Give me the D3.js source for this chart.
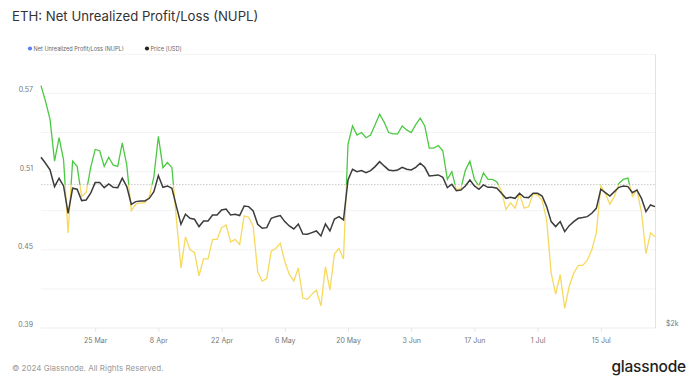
<!DOCTYPE html>
<html>
<head>
<meta charset="utf-8">
<script src="https://cdn.jsdelivr.net/npm/d3@7"></script>
<style>
  body { margin: 0; background: #fff; }
  svg { font-family: Inter, "Noto Sans", sans-serif; }
</style>
</head>
<body>
<svg id="chart" width="700" height="390"></svg>
<script>
// daily series, first point 13 Mar 2024
const startDate = "2024-03-13";

const nupl = [
  0.576, 0.564, 0.550, 0.518, 0.536, 0.519, 0.463, 0.518, 0.514, 0.491,
  0.494, 0.513, 0.527, 0.526, 0.514, 0.521, 0.515, 0.514, 0.532, 0.515,
  0.480, 0.485, 0.486, 0.486, 0.491, 0.506, 0.537, 0.513, 0.517, 0.513,
  0.473, 0.436, 0.460, 0.450, 0.448, 0.430, 0.443, 0.443, 0.458, 0.458,
  0.467, 0.469, 0.456, 0.458, 0.454, 0.476, 0.475, 0.468, 0.433, 0.426,
  0.428, 0.449, 0.451, 0.455, 0.441, 0.431, 0.426, 0.436, 0.413, 0.412,
  0.416, 0.419, 0.407, 0.437, 0.419, 0.447, 0.451, 0.443, 0.531, 0.545,
  0.538, 0.540, 0.536, 0.538, 0.546, 0.554, 0.548, 0.540, 0.539, 0.539,
  0.545, 0.542, 0.540, 0.546, 0.551, 0.545, 0.528, 0.528, 0.530, 0.526,
  0.504, 0.510, 0.496, 0.497, 0.511, 0.518, 0.504, 0.499, 0.509, 0.504,
  0.504, 0.502, 0.495, 0.481, 0.486, 0.482, 0.493, 0.482, 0.483, 0.493,
  0.492, 0.488, 0.473, 0.432, 0.416, 0.431, 0.405, 0.422, 0.432, 0.438,
  0.438, 0.442, 0.450, 0.463, 0.499, 0.493, 0.485, 0.491, 0.501, 0.504,
  0.505, 0.491, 0.496, 0.479, 0.447, 0.463, 0.460
];

const price = [
  4000, 3901, 3794, 3538, 3664, 3548, 3164, 3514, 3499, 3337,
  3346, 3441, 3598, 3598, 3523, 3578, 3528, 3523, 3664, 3538,
  3286, 3323, 3332, 3332, 3369, 3465, 3705, 3528, 3548, 3514,
  3254, 3022, 3151, 3099, 3086, 2993, 3064, 3064, 3142, 3142,
  3209, 3222, 3142, 3151, 3134, 3263, 3254, 3196, 3022, 2972,
  2980, 3099, 3120, 3134, 3056, 3001, 2964, 3026, 2902, 2898,
  2919, 2939, 2878, 3026, 2939, 3090, 3120, 3077, 3638, 3804,
  3767, 3783, 3752, 3783, 3847, 3928, 3858, 3794, 3783, 3794,
  3836, 3804, 3794, 3836, 3901, 3836, 3700, 3705, 3715, 3679,
  3523, 3573, 3479, 3489, 3548, 3638, 3548, 3499, 3563, 3528,
  3528, 3514, 3441, 3369, 3384, 3369, 3441, 3384, 3379, 3441,
  3441, 3402, 3254, 3056, 2993, 3056, 2931, 3005, 3056, 3099,
  3108, 3120, 3164, 3231, 3499, 3450, 3402, 3465, 3528, 3548,
  3538, 3450, 3489, 3369, 3187, 3277, 3254
];

const xTicks = ["2024-03-25", "2024-04-08", "2024-04-22", "2024-05-06", "2024-05-20",
                "2024-06-03", "2024-06-17", "2024-07-01", "2024-07-15"];
const yLabels = [0.39, 0.45, 0.51, 0.57];
const yGrid = [0.39, 0.42, 0.45, 0.48, 0.51, 0.54, 0.57, 0.60];
const priceTicks = [2000];
const threshold = 0.5;

const svg = d3.select("#chart");
const plotLeft = 41, plotRight = 655, plotTop = 54.3, plotBottom = 328;

const parse = d3.utcParse("%Y-%m-%d");
const t0 = parse(startDate);
const data = nupl.map((v, i) => ({ date: d3.utcDay.offset(t0, i), nupl: v, price: price[i] }));

const x = d3.scaleUtc()
  .domain([t0, data[data.length - 1].date])
  .range([plotLeft, plotRight]);
const y = d3.scaleLinear().domain([0.39, 0.60]).range([plotBottom, plotTop]);
const yPrice = d3.scaleLog().domain([1958, 6155]).range([plotBottom, plotTop]);

// title
svg.append("text")
  .attr("x", 12).attr("y", 21)
  .attr("font-size", 13.2).attr("fill", "#333")
  .text("ETH: Net Unrealized Profit/Loss (NUPL)");

// legend
const legend = [
  { label: "Net Unrealized Profit/Loss (NUPL)", color: "#5b7cf2", x: 30 },
  { label: "Price [USD]", color: "#222", x: 147 }
];
legend.forEach((d) => {
  svg.append("circle").attr("cx", d.x).attr("cy", 48.5).attr("r", 2.1).attr("fill", d.color);
  svg.append("text").attr("x", d.x + 3.5).attr("y", 50.5)
    .attr("font-size", 5.6).attr("fill", "#666").text(d.label);
});

// grid
svg.append("g")
  .selectAll("line")
  .data(yGrid)
  .join("line")
  .attr("x1", plotLeft).attr("x2", plotRight)
  .attr("y1", (d) => y(d)).attr("y2", (d) => y(d))
  .attr("stroke", (d) => (d === 0.39 ? "#ebebeb" : "#f3f3f3"))
  .attr("stroke-width", 1);

// right border
svg.append("line")
  .attr("x1", plotRight + 0.5).attr("x2", plotRight + 0.5)
  .attr("y1", plotTop).attr("y2", plotBottom)
  .attr("stroke", "#e3e3e3");

// y labels
svg.append("g")
  .selectAll("text")
  .data(yLabels)
  .join("text")
  .attr("x", 33).attr("y", (d) => y(d) - 1)
  .attr("text-anchor", "end")
  .attr("font-size", 7).attr("fill", "#777")
  .text((d) => d.toFixed(2));

// price axis label
svg.append("g")
  .selectAll("text")
  .data(priceTicks)
  .join("text")
  .attr("x", 666).attr("y", (d) => yPrice(d) + 3.5)
  .attr("font-size", 7).attr("fill", "#777")
  .text((d) => "$" + d / 1000 + "k");

// x axis
const xAxis = d3.axisBottom(x)
  .tickValues(xTicks.map(parse))
  .tickSize(4)
  .tickPadding(6)
  .tickFormat(d3.utcFormat("%-d %b"));

const gx = svg.append("g")
  .attr("transform", `translate(0,${plotBottom})`)
  .call(xAxis);
gx.select(".domain").remove();
gx.selectAll(".tick line").attr("stroke", "#e6e6e6");
gx.selectAll(".tick text").attr("font-size", 7).attr("fill", "#777")
  .attr("font-family", "Inter, 'Noto Sans', sans-serif");

// threshold dotted line
svg.append("line")
  .attr("x1", plotLeft).attr("x2", plotRight)
  .attr("y1", y(threshold)).attr("y2", y(threshold))
  .attr("stroke", "#c8c8c8")
  .attr("stroke-dasharray", "1.5,1.5");

// NUPL split at threshold
const defs = svg.append("defs");
defs.append("clipPath").attr("id", "above")
  .append("rect").attr("x", 0).attr("y", 0).attr("width", 700).attr("height", y(threshold));
defs.append("clipPath").attr("id", "below")
  .append("rect").attr("x", 0).attr("y", y(threshold)).attr("width", 700).attr("height", 390);

const nuplLine = d3.line().x((d) => x(d.date)).y((d) => y(d.nupl));

svg.append("path")
  .datum(data)
  .attr("d", nuplLine)
  .attr("clip-path", "url(#below)")
  .attr("fill", "none")
  .attr("stroke", "#f7d95e")
  .attr("stroke-width", 1.3);

svg.append("path")
  .datum(data)
  .attr("d", nuplLine)
  .attr("clip-path", "url(#above)")
  .attr("fill", "none")
  .attr("stroke", "#4cc943")
  .attr("stroke-width", 1.3);

// price
svg.append("path")
  .datum(data)
  .attr("d", d3.line().x((d) => x(d.date)).y((d) => yPrice(d.price)))
  .attr("fill", "none")
  .attr("stroke", "#3c3c3c")
  .attr("stroke-width", 1.5);

// footer
svg.append("text")
  .attr("x", 12).attr("y", 371)
  .attr("font-size", 8).attr("fill", "#9a9a9a")
  .text("© 2024 Glassnode. All Rights Reserved.");

svg.append("text")
  .attr("x", 686).attr("y", 372)
  .attr("text-anchor", "end")
  .attr("font-size", 15.5).attr("font-weight", 500).attr("fill", "#1e1e1e")
  .attr("letter-spacing", -0.2)
  .text("glassnode");
</script>
</body>
</html>
